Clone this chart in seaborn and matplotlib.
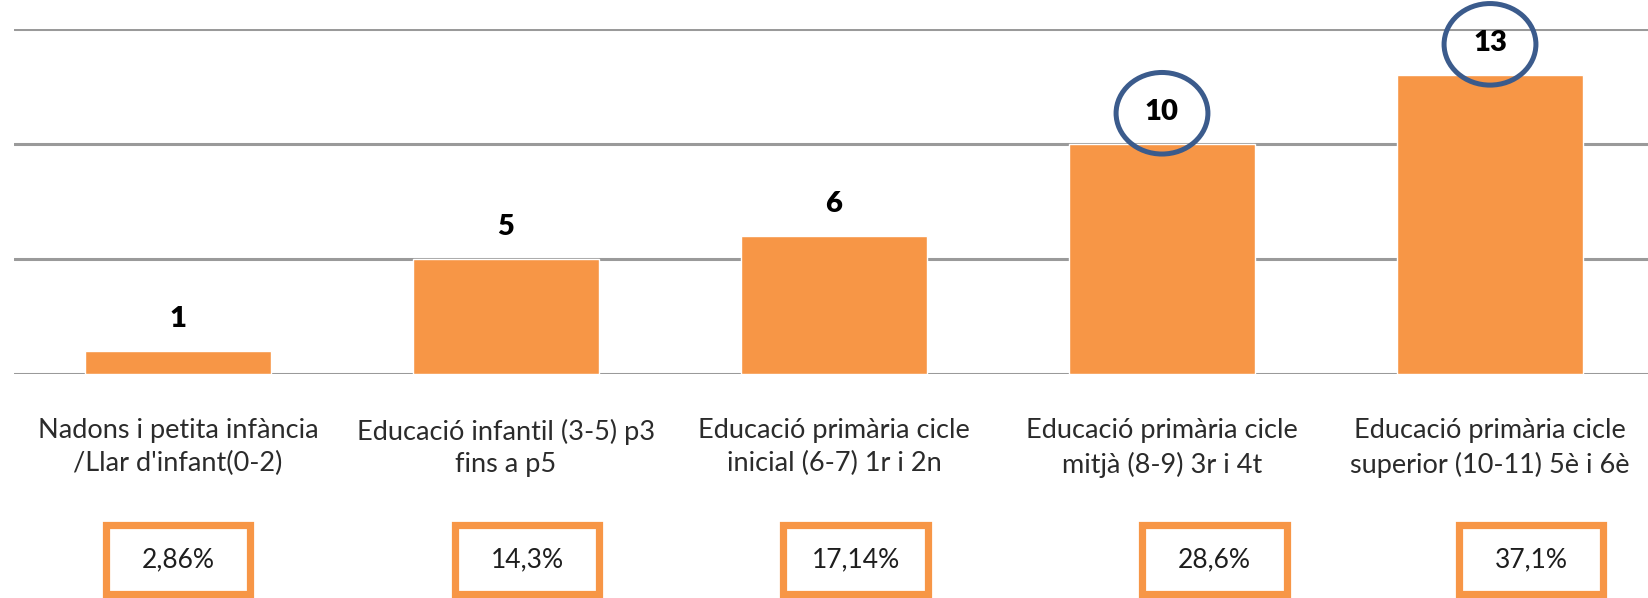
import numpy as np
import pandas as pd
import matplotlib
matplotlib.use("Agg")
import matplotlib.pyplot as plt
import matplotlib.transforms as mtransforms
from matplotlib.patches import Rectangle, Ellipse
import seaborn as sns

# Data
categories = [
    "Nadons i petita infància\n/Llar d'infant(0-2)",
    "Educació infantil (3-5) p3\nfins a p5",
    "Educació primària cicle\ninicial (6-7) 1r i 2n",
    "Educació primària cicle\nmitjà (8-9) 3r i 4t",
    "Educació primària cicle\nsuperior (10-11) 5è i 6è",
]
counts = [1, 5, 6, 10, 13]
pct_labels = ["2,86%", "14,3%", "17,14%", "28,6%", "37,1%"]
highlighted = [3, 4]  # bars circled in blue

# layout: small horizontal shift of each percent box (data units)
box_shift = [0.0, 0.064, 0.067, 0.16, 0.125]

orange = "#F79646"
circle_blue = "#3B5B8C"

sns.set_theme(style="white")
plt.rcParams["font.family"] = ["Lato", "DejaVu Sans"]

df = pd.DataFrame({"grup": categories, "n": counts})

fig = plt.figure(figsize=(16.48, 5.98), dpi=100)
ax = fig.add_axes([14 / 1648, 1 - 374 / 598, 1640 / 1648, 344.6 / 598])

sns.barplot(data=df, x="grup", y="n", color=orange, saturation=1,
            width=0.57, ax=ax)

ax.set_ylim(0, 15)
ax.set_xlim(-0.5, 4.5)
ax.set_yticks([0, 5, 10, 15])
ax.yaxis.grid(True, color="#9A9A9A", lw=2.2)
ax.set_axisbelow(True)
sns.despine(ax=ax, left=True, bottom=True, top=True, right=True)
ax.tick_params(axis="y", left=False, labelleft=False)
ax.tick_params(axis="x", bottom=False, pad=26, labelsize=19.5, labelcolor="#2B2B2B")
ax.set_xlabel("")
ax.set_ylabel("")
for lbl in ax.get_xticklabels():
    lbl.set_linespacing(1.38)

# value labels above bars
ax.bar_label(ax.containers[0], labels=[str(v) for v in counts], padding=14,
             fontsize=21, fontweight="heavy", color="black")

# blue circles around highlighted values
for i in highlighted:
    ax.add_patch(Ellipse((i, counts[i] + 1.35), 0.28, 3.55, fill=False,
                         edgecolor=circle_blue, lw=3.6, clip_on=False))

# percent boxes below the labels
trans = mtransforms.blended_transform_factory(ax.transData, fig.transFigure)
for i, txt in enumerate(pct_labels):
    cx = i + box_shift[i]
    ax.add_patch(Rectangle((cx - 0.221, 0.006), 0.442, 0.116, transform=trans,
                           facecolor="white", edgecolor=orange, lw=5.2,
                           clip_on=False))
    ax.text(cx, 0.064, txt, transform=trans, ha="center", va="center",
            fontsize=19, color="#1E1E1E")

fig.savefig("out.png", dpi=100)
